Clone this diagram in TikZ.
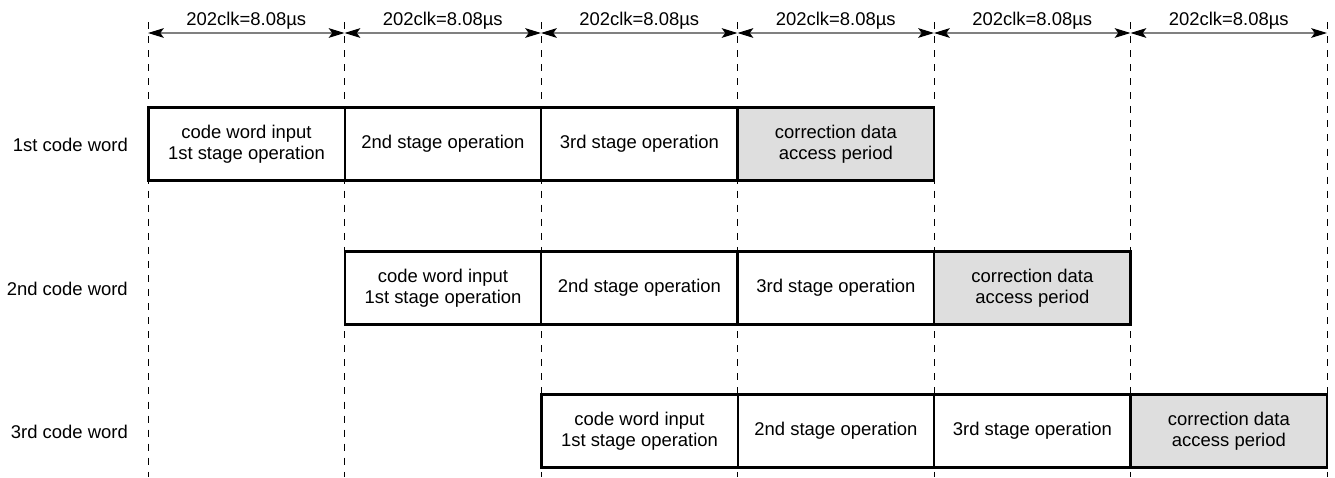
\documentclass[tikz,border=0pt]{standalone}
\usepackage{fontspec}
\setmainfont{Liberation Sans}
\usetikzlibrary{arrows.meta, positioning}

\begin{document}
\begin{tikzpicture}[
        x=0.02cm, y=-0.02cm,
        node distance = 0mm and 0mm,
        stage/.style = {rectangle, draw, line width=1.4pt, minimum width=3.93cm, minimum height=1.46cm, align=center, inner sep=0pt, outer sep=0pt},
        corr/.style = {stage, fill=black!13},
        tick/.style = {black, line width=0.5pt, dash pattern=on 4pt off 4pt},
        span/.style = {black!50, line width=0.7pt, {Stealth[black, length=9pt, width=5.5pt, inset=2pt]}-{Stealth[black, length=9pt, width=5.5pt, inset=2pt]}},
        wordlabel/.style = {anchor=east},
        font=\fontsize{10.5}{12}\selectfont
        ]

        \useasboundingbox (0,0) rectangle (1335,477);

        % time grid
        \foreach \i in {0,...,6} {
          \coordinate (t\i) at (148+196.5*\i, 22);
          \coordinate (b\i) at (148+196.5*\i, 477);
          \coordinate (a\i) at (148+196.5*\i, 33);
          \draw[tick] (t\i) -- (b\i);
        }
        \foreach \i/\j in {0/1,1/2,2/3,3/4,4/5,5/6}
          \draw[span] (a\i) -- node[black, above=-1.5pt] {202clk=8.08µs} (a\j);

        % 1st code word
        \node[wordlabel] (W1) at (134,145) {1st code word};
        \node[stage] (A1) at (246.5,144) {code word input\\1st stage operation};
        \node[stage, right=of A1] (A2) {2nd stage operation};
        \node[stage, right=of A2] (A3) {3rd stage operation};
        \node[corr, right=of A3] (A4) {correction data\\access period};

        % 2nd code word
        \node[wordlabel] (W2) at (134,289) {2nd code word};
        \node[stage] (B1) at (443,288) {code word input\\1st stage operation};
        \node[stage, right=of B1] (B2) {2nd stage operation};
        \node[stage, right=of B2] (B3) {3rd stage operation};
        \node[corr, right=of B3] (B4) {correction data\\access period};

        % 3rd code word
        \node[wordlabel] (W3) at (134,432) {3rd code word};
        \node[stage] (C1) at (639.5,431) {code word input\\1st stage operation};
        \node[stage, right=of C1] (C2) {2nd stage operation};
        \node[stage, right=of C2] (C3) {3rd stage operation};
        \node[corr, right=of C3] (C4) {correction data\\access period};

\end{tikzpicture}
\end{document}
